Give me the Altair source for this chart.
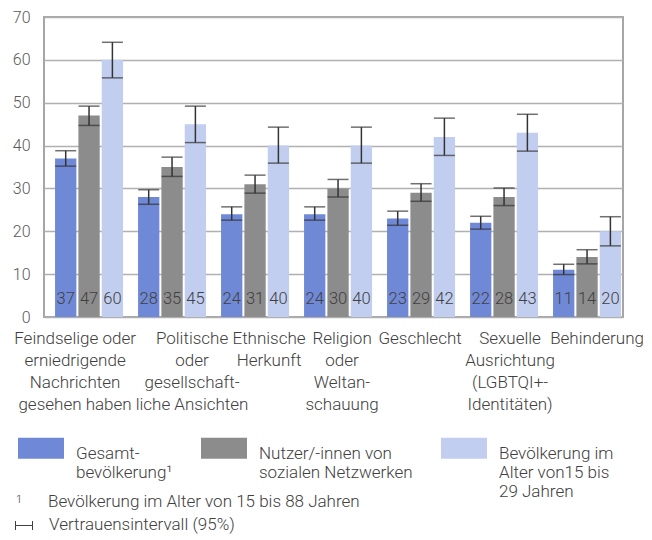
import json
import altair as alt
import pandas as pd

# ---------------- data ----------------
categories = [
    "Feindselige oder|erniedrigende|Nachrichten|gesehen haben",
    "Politische|oder|gesellschaft-|liche Ansichten",
    "Ethnische|Herkunft",
    "Religion|oder|Weltan-|schauung",
    "Geschlecht",
    "Sexuelle|Ausrichtung|(LGBTQI+-|Identitäten)",
    "Behinderung",
]
series = [
    "Gesamt-|bevölkerung¹| ",
    "Nutzer/-innen von|sozialen Netzwerken| ",
    "Bevölkerung im|Alter von15 bis|29 Jahren",
]
colors = ["#7089D6", "#8C8C8C", "#C2CEF0"]

gesamt = [37, 28, 24, 24, 23, 22, 11]
gesamt_lo = [35.2, 26.3, 22.6, 22.6, 21.4, 20.5, 9.9]
gesamt_hi = [38.8, 29.7, 25.7, 25.7, 24.7, 23.5, 12.3]

nutzer = [47, 35, 31, 30, 29, 28, 14]
nutzer_lo = [44.7, 32.8, 28.9, 28.0, 27.0, 26.0, 12.4]
nutzer_hi = [49.2, 37.3, 33.1, 32.1, 31.1, 30.1, 15.7]

jung = [60, 45, 40, 40, 42, 43, 20]
jung_lo = [55.8, 40.7, 35.9, 35.9, 37.7, 38.7, 16.6]
jung_hi = [64.1, 49.2, 44.3, 44.3, 46.4, 47.3, 23.4]

y_ticks = [0, 10, 20, 30, 40, 50, 60, 70]

footnote_mark = "1"
footnote_text = "Bevölkerung im Alter von 15 bis 88 Jahren"
ci_text = "Vertrauensintervall (95%)"

# ---------------- table ----------------
rows = []
for s, vals, los, his in [
    (series[0], gesamt, gesamt_lo, gesamt_hi),
    (series[1], nutzer, nutzer_lo, nutzer_hi),
    (series[2], jung, jung_lo, jung_hi),
]:
    for c, v, lo, hi in zip(categories, vals, los, his):
        rows.append({"cat": c, "series": s, "value": v, "lo": lo, "hi": hi})
df = pd.DataFrame(rows)

FONT = "Roboto"
FW = 300
TXT = "#404040"
ERR = "#333333"

# small per-label nudges of the category labels (layout only)
label_nudge = "[-14, 20, 14, 4, -1, 6, 10][indexof(%s, datum.value)]" % json.dumps(
    categories, ensure_ascii=False
)

x_enc = alt.X(
    "cat:N",
    sort=categories,
    title=None,
    scale=alt.Scale(paddingInner=0.1807, paddingOuter=0.0783, align=0.85),
    axis=alt.Axis(
        labelExpr="split(datum.label, '|')",
        labelAngle=0,
        labelFontSize=17,
        labelFontWeight=FW,
        labelLineHeight=22,
        labelColor=TXT,
        labelPadding=13,
        labelLimit=300,
        labelBaseline="top",
        labelOffset={"expr": label_nudge},
        ticks=False,
        domain=False,
        grid=False,
    ),
)
xo_enc = alt.XOffset(
    "series:N", sort=series, scale=alt.Scale(paddingInner=0.087, paddingOuter=0)
)
y_scale = alt.Scale(domain=[0, 70], nice=False)

base = alt.Chart(df)

bars = base.mark_bar().encode(
    x=x_enc,
    xOffset=xo_enc,
    y=alt.Y(
        "value:Q",
        scale=y_scale,
        title=None,
        axis=alt.Axis(
            values=y_ticks,
            labelFontSize=16,
            labelFontWeight=FW,
            labelColor="#595959",
            labelPadding=14,
            ticks=False,
            domain=False,
            grid=True,
            gridColor="#B0B0B0",
            gridWidth=1.6,
        ),
    ),
    color=alt.Color(
        "series:N",
        sort=series,
        scale=alt.Scale(domain=series, range=colors),
        legend=alt.Legend(
            title=None,
            orient="none",
            legendX=-26,
            legendY=405.5,
            direction="horizontal",
            columns=3,
            columnPadding=28,
            padding=0,
            symbolType="M-1,-0.34 H1 V0.573 H-1 Z",
            symbolSize=2116,
            symbolStrokeWidth=0,
            symbolOpacity=1,
            labelExpr="split(datum.label, '|')",
            labelFontSize=17,
            labelFontWeight=FW,
            labelBaseline="top",
            labelOffset=12,
            labelColor=TXT,
            labelLimit=300,
        ),
    ),
)

err_rule = base.mark_rule(color=ERR, strokeWidth=1.5).encode(
    x=alt.X("cat:N", sort=categories),
    xOffset=xo_enc,
    y=alt.Y("lo:Q", scale=y_scale),
    y2="hi:Q",
)
cap_lo = base.mark_tick(orient="horizontal", size=21, thickness=1.5, color=ERR).encode(
    x=alt.X("cat:N", sort=categories),
    xOffset=xo_enc,
    y=alt.Y("lo:Q", scale=y_scale),
)
cap_hi = base.mark_tick(orient="horizontal", size=21, thickness=1.5, color=ERR).encode(
    x=alt.X("cat:N", sort=categories),
    xOffset=xo_enc,
    y=alt.Y("hi:Q", scale=y_scale),
)

labels = base.mark_text(
    baseline="middle", fontSize=16.5, fontWeight=FW, color=TXT, font=FONT
).encode(
    x=alt.X("cat:N", sort=categories),
    xOffset=xo_enc,
    y=alt.value(282),
    text=alt.Text("value:Q"),
)

one = alt.Data(values=[{"k": 1}])

fn_mark = alt.Chart(one).mark_text(
    align="left", baseline="alphabetic", fontSize=11, fontWeight=FW, color=TXT, font=FONT
).encode(x=alt.value(-28), y=alt.value(486), text=alt.value(footnote_mark))
fn_text = alt.Chart(one).mark_text(
    align="left", baseline="alphabetic", fontSize=17, fontWeight=FW, color=TXT, font=FONT
).encode(x=alt.value(4), y=alt.value(490), text=alt.value(footnote_text))
ci_label = alt.Chart(one).mark_text(
    align="left", baseline="alphabetic", fontSize=17, fontWeight=FW, color=TXT, font=FONT
).encode(x=alt.value(5), y=alt.value(513), text=alt.value(ci_text))

icon_l = alt.Chart(one).mark_rule(color=TXT, strokeWidth=1).encode(
    x=alt.value(-28.5), y=alt.value(504), y2=alt.value(513)
)
icon_m = alt.Chart(one).mark_rule(color=TXT, strokeWidth=1).encode(
    x=alt.value(-28.5), x2=alt.value(-11.5), y=alt.value(508.5)
)
icon_r = alt.Chart(one).mark_rule(color=TXT, strokeWidth=1).encode(
    x=alt.value(-11.5), y=alt.value(504), y2=alt.value(513)
)

chart = (
    alt.layer(
        bars, err_rule, cap_lo, cap_hi, labels,
        fn_mark, fn_text, ci_label, icon_l, icon_m, icon_r,
    )
    .properties(
        width=579,
        height=300,
        padding={"left": 36, "top": 9, "right": 20, "bottom": 220},
        autosize=alt.AutoSizeParams(type="none"),
    )
    .configure(font=FONT)
    .configure_view(stroke="#A6A6A6", strokeWidth=2)
)

chart.save("out.html", embed_options={"renderer": "svg", "actions": False})
